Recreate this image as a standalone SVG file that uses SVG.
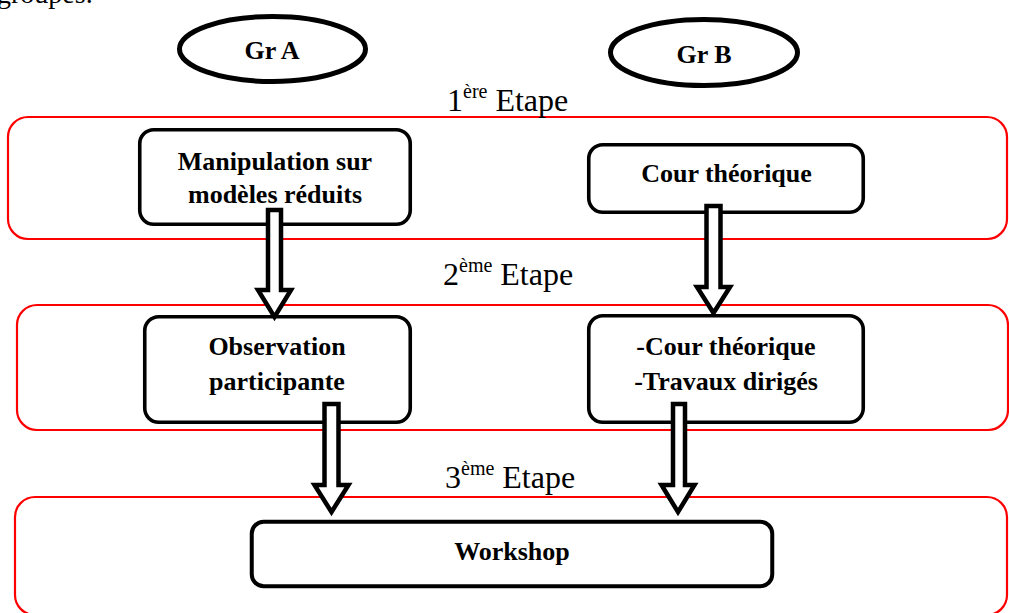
<svg xmlns="http://www.w3.org/2000/svg" width="1009" height="613" viewBox="0 0 1009 613">
<style>
.panel{fill:none;stroke:#ff0000;stroke-width:2.2}
.box{fill:#fff;stroke:#000;stroke-width:3.6}
.ell{fill:#fff;stroke:#000;stroke-width:5}
.arr{fill:#fff;stroke:#000;stroke-width:4.5;stroke-linejoin:miter;stroke-miterlimit:10}
.lbl{font-family:"Liberation Serif","Times New Roman",serif;font-weight:bold;font-size:26px;fill:#000;text-anchor:middle}
.step{font-family:"Liberation Serif","Times New Roman",serif;font-size:32px;fill:#000}
.sup{font-size:20px}
</style>
<rect width="1009" height="613" fill="#fff"/>
<text class="step" x="-3" y="3" style="font-size:28px">groupes.</text>

<g id="panels">
<rect class="panel" x="8" y="117" width="999" height="122" rx="20"/>
<rect class="panel" x="17" y="305" width="991" height="125" rx="20"/>
<rect class="panel" x="15" y="497" width="992" height="118" rx="20"/>
</g>

<g id="stepLabels">
<text class="step" x="447" y="111">1<tspan class="sup" dy="-13">ère</tspan><tspan dy="13"> Etape</tspan></text>
<text class="step" x="443" y="285">2<tspan class="sup" dy="-13">ème</tspan><tspan dy="13"> Etape</tspan></text>
<text class="step" x="445" y="488">3<tspan class="sup" dy="-13">ème</tspan><tspan dy="13"> Etape</tspan></text>
</g>

<g id="grA">
<ellipse class="ell" cx="272.5" cy="49" rx="93" ry="32.5"/>
<text class="lbl" x="272" y="59">Gr A</text>
</g>
<g id="grB">
<ellipse class="ell" cx="704" cy="52.5" rx="93.5" ry="33"/>
<text class="lbl" x="704" y="63">Gr B</text>
</g>

<g id="manipulation">
<rect class="box" x="139.75" y="129.75" width="270.5" height="94.5" rx="14"/>
<text class="lbl" x="275" y="170">Manipulation sur</text>
<text class="lbl" x="275" y="203">modèles réduits</text>
</g>
<g id="courTheorique">
<rect class="box" x="588.75" y="144.75" width="274.5" height="67.5" rx="14"/>
<text class="lbl" x="726.5" y="182">Cour théorique</text>
</g>
<g id="observation">
<rect class="box" x="144.75" y="316.75" width="265.5" height="105.5" rx="14"/>
<text class="lbl" x="277" y="355">Observation</text>
<text class="lbl" x="277" y="390">participante</text>
</g>
<g id="courTD">
<rect class="box" x="588.75" y="315.75" width="274.5" height="106.5" rx="14"/>
<text class="lbl" x="726" y="355">-Cour théorique</text>
<text class="lbl" x="726" y="390">-Travaux dirigés</text>
</g>
<g id="workshop">
<rect class="box" x="251.75" y="521.75" width="520.5" height="64.5" rx="12" style="stroke-width:4"/>
<text class="lbl" x="512" y="560">Workshop</text>
</g>

<g id="connectors">
<path class="arr" d="M268,210 H281 V290 H291 L274.5,317 L258,290 H268 Z"/>
<path class="arr" d="M706.5,206 H720.5 V287 H730 L713.5,313 L697,287 H706.5 Z"/>
<path class="arr" d="M324.5,404 H338.5 V485 H348.5 L331.5,512 L314.5,485 H324.5 Z"/>
<path class="arr" d="M673,404 H685 V485 H694.5 L678,512 L661.5,485 H673 Z"/>
</g>
</svg>
